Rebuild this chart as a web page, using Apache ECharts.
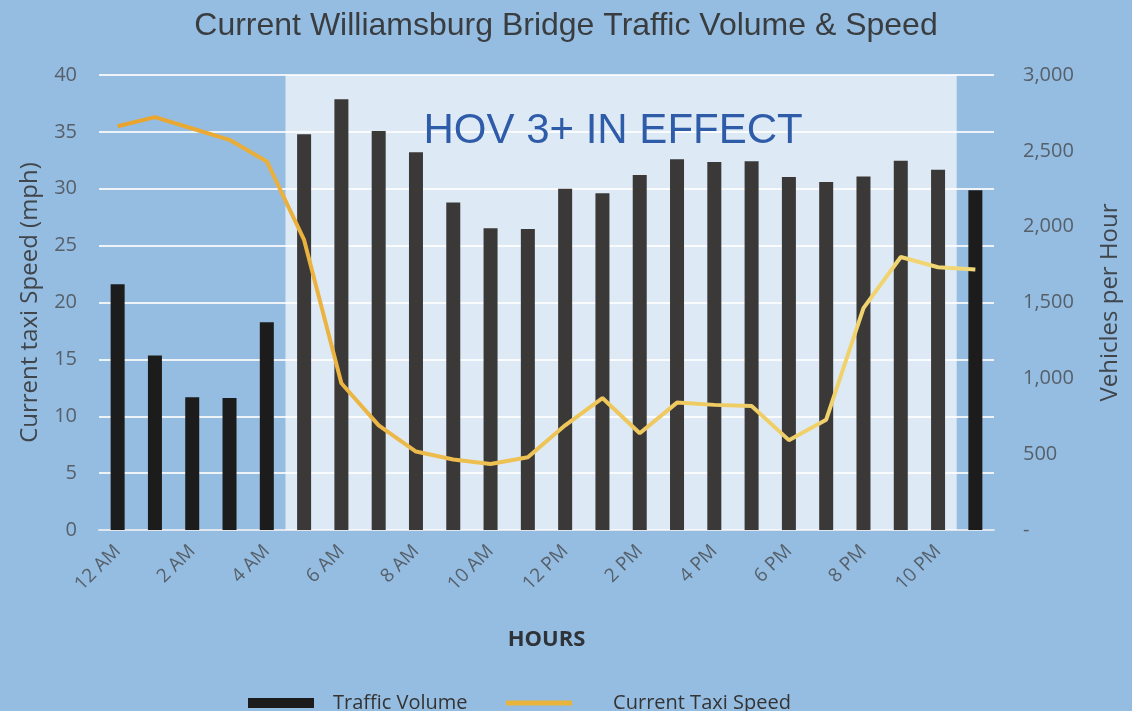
<!DOCTYPE html>
<html>
<head>
<meta charset="utf-8">
<script src="https://cdn.jsdelivr.net/npm/echarts@6/dist/echarts.min.js"></script>
<style>
  html, body { margin: 0; padding: 0; }
  #chart { width: 1132px; height: 711px; }
</style>
</head>
<body>
<div id="chart"></div>
<script>
const hours = [
  "12 AM", "1 AM", "2 AM", "3 AM", "4 AM", "5 AM", "6 AM", "7 AM",
  "8 AM", "9 AM", "10 AM", "11 AM", "12 PM", "1 PM", "2 PM", "3 PM",
  "4 PM", "5 PM", "6 PM", "7 PM", "8 PM", "9 PM", "10 PM", "11 PM",
];

// vehicles per hour (right axis)
const trafficVolume = [
  1620, 1150, 875, 870, 1370, 2610, 2840, 2630,
  2490, 2160, 1990, 1985, 2250, 2220, 2340, 2445,
  2426, 2432, 2327, 2294, 2330, 2435, 2375, 2240,
];

// mph (left axis)
const taxiSpeed = [
  35.5, 36.3, 35.3, 34.3, 32.4, 25.5, 12.9, 9.2,
  6.9, 6.2, 5.8, 6.4, 9.2, 11.6, 8.5, 11.2,
  11.0, 10.9, 7.9, 9.7, 19.5, 24.0, 23.1, 22.9,
];

const hovStart = "5 AM";
const hovEnd = "10 PM";

const chart = echarts.init(document.getElementById("chart"));

const axisText = { color: "#56606a", fontSize: 20, fontFamily: "Open Sans" };
const nameText = { color: "#3f454b", fontSize: 24, fontFamily: "Open Sans" };

const option = {
  backgroundColor: "#95bde2",
  animation: false,
  title: {
    text: "Current Williamsburg Bridge Traffic Volume & Speed",
    left: "center",
    top: 5,
    textStyle: {
      color: "#3a3d40",
      fontSize: 32,
      fontWeight: "normal",
      fontFamily: "Liberation Sans",
    },
  },
  legend: {
    bottom: -7,
    left: 243,
    itemGap: 36,
    itemWidth: 66,
    itemHeight: 10,
    textStyle: { color: "#333", fontSize: 20, fontFamily: "Open Sans", padding: [0, 0, 0, 14] },
    data: [
      { name: "Traffic Volume", icon: "rect", itemStyle: { color: "#1c1c1c" } },
      {
        name: "Current Taxi Speed",
        itemStyle: { opacity: 0 },
        lineStyle: { width: 5, color: "#e9b43c" },
        textStyle: { padding: [0, 0, 0, 36] },
      },
    ],
  },
  grid: {
    left: 99,
    right: 138,
    top: 75,
    bottom: 181,
  },
  xAxis: {
    type: "category",
    data: hours,
    name: "HOURS",
    nameLocation: "middle",
    nameGap: 99,
    nameTextStyle: { color: "#2f3338", fontSize: 22, fontWeight: "bold", fontFamily: "Open Sans" },
    axisTick: { show: false },
    axisLine: { lineStyle: { color: "#dfe6ee", width: 2 } },
    axisLabel: Object.assign({ interval: 1, rotate: 45, margin: 18 }, axisText, { fontSize: 19 }),
  },
  yAxis: [
    {
      type: "value",
      min: 0,
      max: 40,
      interval: 5,
      name: "Current taxi Speed (mph)",
      nameLocation: "middle",
      nameRotate: 90,
      nameGap: 57,
      nameTextStyle: nameText,
      axisLabel: Object.assign({ margin: 22 }, axisText),
      splitLine: { lineStyle: { color: "#eef3f8", width: 2 } },
    },
    {
      type: "value",
      min: 0,
      max: 3000,
      interval: 500,
      name: "Vehicles per Hour",
      nameLocation: "middle",
      nameRotate: 90,
      nameGap: 104,
      nameTextStyle: nameText,
      axisLabel: Object.assign(
        {
          margin: 29,
          formatter: function (v) {
            return v === 0 ? "-" : v.toLocaleString("en-US");
          },
        },
        axisText
      ),
      splitLine: { show: false },
    },
  ],
  series: [
    {
      name: "Traffic Volume",
      type: "bar",
      yAxisIndex: 1,
      data: trafficVolume,
      barWidth: 14,
      itemStyle: {
        color: function (p) {
          const a = hours.indexOf(hovStart);
          const b = hours.indexOf(hovEnd);
          return p.dataIndex >= a && p.dataIndex <= b ? "#3b3838" : "#1c1c1c";
        },
      },
      markArea: {
        silent: true,
        itemStyle: { color: "rgba(255,255,255,0.68)" },
        label: {
          show: true,
          position: "insideTop",
          distance: 35,
          offset: [-8, 0],
          color: "#2f5ca8",
          fontSize: 42,
          fontFamily: "Liberation Sans",
        },
        data: [[{ name: "HOV 3+ IN EFFECT", xAxis: hovStart }, { xAxis: hovEnd }]],
      },
    },
    {
      name: "Current Taxi Speed",
      type: "line",
      yAxisIndex: 0,
      data: taxiSpeed,
      showSymbol: false,
      symbol: "none",
      lineStyle: {
        width: 4,
        color: new echarts.graphic.LinearGradient(0, 0, 1, 0, [
          { offset: 0, color: "#e8a32c" },
          { offset: 0.5, color: "#eec457" },
          { offset: 1, color: "#f1d877" },
        ]),
      },
      itemStyle: { color: "#e8b23e" },
    },
  ],
};

chart.setOption(option);
</script>
</body>
</html>
